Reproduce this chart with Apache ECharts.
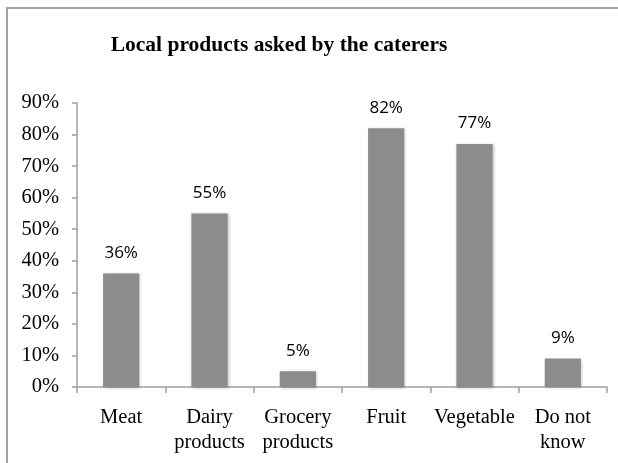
<!DOCTYPE html>
<html>
<head>
<meta charset="utf-8">
<script src="https://cdn.jsdelivr.net/npm/echarts@6/dist/echarts.min.js"></script>
<style>
  html, body { margin: 0; padding: 0; background: #fff; }
  #chart { width: 618px; height: 463px; }
</style>
</head>
<body>
<div id="chart"></div>
<script>
// Product groups requested locally by caterers (share of respondents, %)
const categories = ['Meat', 'Dairy\nproducts', 'Grocery\nproducts', 'Fruit', 'Vegetable', 'Do not\nknow'];
const shares = [36, 55, 5, 82, 77, 9];
const yTicks = [0, 10, 20, 30, 40, 50, 60, 70, 80, 90];

const serif = '"Liberation Serif", "Times New Roman", serif';
const sans = '"Open Sans", "Liberation Sans", sans-serif';
const axisGrey = '#a0a0a0';

const chart = echarts.init(document.getElementById('chart'), null, { renderer: 'canvas' });

chart.setOption({
  backgroundColor: '#ffffff',
  animation: false,
  title: {
    text: 'Local products asked by the caterers',
    left: 274,
    textAlign: 'center',
    top: 29,
    textStyle: { fontFamily: serif, fontWeight: 'bold', fontSize: 21.5, color: '#000' }
  },
  graphic: [{
    // chart-area frame; only its top and left edges fall inside the canvas
    type: 'rect',
    shape: { x: 7, y: 8, width: 800, height: 700 },
    style: { fill: 'none', stroke: '#a3a3a3', lineWidth: 2 },
    silent: true
  }],
  grid: { left: 77, right: 11, top: 103, bottom: 76, containLabel: false },
  xAxis: {
    type: 'category',
    data: categories,
    axisLine: { show: true, lineStyle: { color: axisGrey, width: 1.5 } },
    axisTick: { show: true, length: 6, lineStyle: { color: axisGrey, width: 1.5 } },
    axisLabel: {
      interval: 0,
      margin: 18,
      fontFamily: serif,
      fontSize: 20.5,
      lineHeight: 25,
      color: '#000'
    }
  },
  yAxis: {
    type: 'value',
    min: yTicks[0],
    max: yTicks[yTicks.length - 1],
    interval: 10,
    splitLine: { show: false },
    axisLine: { show: true, lineStyle: { color: axisGrey, width: 1.5 } },
    axisTick: { show: true, length: 5, lineStyle: { color: axisGrey, width: 1.5 } },
    axisLabel: {
      margin: 18,
      fontFamily: serif,
      fontSize: 20.5,
      color: '#000',
      formatter: v => v + '%'
    }
  },
  series: [{
    type: 'bar',
    data: shares,
    barWidth: '41%',
    itemStyle: {
      color: '#8c8c8c',
      shadowColor: 'rgba(0,0,0,0.25)',
      shadowBlur: 3,
      shadowOffsetX: 1,
      shadowOffsetY: 1
    },
    label: {
      show: true,
      position: 'top',
      distance: 12,
      fontFamily: sans,
      fontSize: 17,
      color: '#000',
      formatter: p => p.value + '%'
    }
  }]
});
</script>
</body>
</html>
